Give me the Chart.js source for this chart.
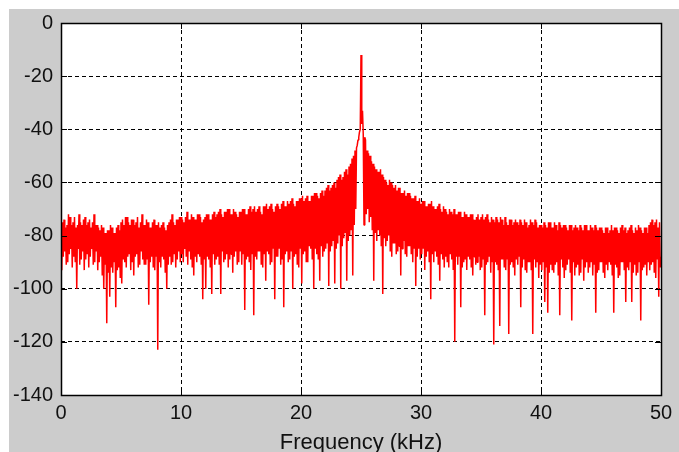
<!DOCTYPE html>
<html>
<head>
<meta charset="utf-8">
<script src="https://cdn.jsdelivr.net/npm/chart.js@4/dist/chart.umd.min.js"></script>
<style>
  html, body { margin: 0; padding: 0; background: #fff; }
</style>
</head>
<body>
<canvas id="spectrum" width="679" height="452"></canvas>
<script>
// FFT bin spacing in kHz
var binWidth = 0.0625;

// magnitude in dB, one row per kHz (16 bins each)
var levels = [
  -79,-93, -75,-88, -74,-86, -77,-91, -76,-90, -72,-87, -73,-85, -76,-92,        // 0
  -75,-88, -73,-90, -77,-100, -76,-85, -72,-91, -75,-89, -76,-86, -74,-93,       // 1
  -73,-89, -76,-87, -75,-92, -74,-88, -77,-85, -75,-91, -72,-90, -76,-86,        // 2
  -76,-93, -77,-90, -78,-88, -76,-95, -77,-100, -79,-91, -79,-113, -78,-94,      // 3
  -78,-103, -76,-92, -77,-94, -79,-90, -79,-107, -77,-93, -76,-92, -78,-96,      // 4
  -75,-98, -74,-89, -76,-90, -73,-92, -73,-88, -75,-87, -76,-93, -74,-90,        // 5
  -74,-95, -76,-88, -75,-87, -73,-92, -77,-91, -75,-86, -72,-89, -76,-91,        // 6
  -76,-91, -74,-89, -75,-106, -77,-90, -77,-88, -75,-92, -74,-93, -76,-88,       // 7
  -76,-123, -75,-90, -77,-92, -76,-88, -75,-89, -77,-94, -78,-100, -76,-91,      // 8
  -75,-88, -74,-91, -72,-90, -75,-87, -76,-92, -74,-89, -74,-86, -73,-90,        // 9
  -73,-87, -74,-90, -75,-85, -73,-88, -71,-91, -74,-86, -74,-89, -72,-92,        // 10
  -73,-95, -74,-88, -74,-90, -72,-87, -72,-88, -73,-91, -75,-104, -74,-89,       // 11
  -73,-100, -72,-88, -72,-89, -74,-92, -74,-102, -72,-87, -71,-91, -73,-89,      // 12
  -72,-88, -71,-91, -70,-102, -72,-86, -73,-90, -71,-89, -71,-87, -70,-92,       // 13
  -70,-89, -72,-87, -72,-94, -70,-88, -71,-86, -72,-91, -73,-90, -71,-86,        // 14
  -71,-91, -70,-87, -70,-108, -72,-89, -72,-88, -70,-90, -69,-93, -71,-87,       // 15
  -70,-110, -69,-88, -71,-89, -70,-86, -69,-86, -71,-91, -72,-92, -69,-87,       // 16
  -69,-97, -68,-86, -70,-87, -69,-91, -68,-90, -70,-85, -71,-104, -69,-88,       // 17
  -68,-88, -69,-85, -70,-91, -68,-89, -67,-107, -69,-87, -69,-86, -67,-90,       // 18
  -68,-89, -67,-86, -66,-100, -68,-88, -69,-87, -67,-91, -67,-92, -66,-85,       // 19
  -66,-98, -65,-87, -67,-86, -66,-90, -65,-90, -67,-84, -67,-85, -65,-89,        // 20
  -65,-100, -64,-85, -64,-87, -65,-89, -66,-97, -64,-84, -63,-88, -65,-86,       // 21
  -63,-85, -62,-83, -61,-99, -63,-86, -62,-84, -61,-82, -60,-98, -62,-85,        // 22
  -59,-83, -58,-80, -57,-100, -59,-84, -58,-81, -56,-79, -55,-97, -57,-82,       // 23
  -54,-80, -53,-78, -51,-95, -50,-76, -48,-70, -47,-46, -44,-43, -41,-40,        // 24
  -12,-38, -33,-42, -76,-43, -44,-72, -48,-70, -49,-75, -50,-73, -52,-78,        // 25 (carrier)
  -53,-97, -54,-79, -55,-82, -56,-78, -56,-80, -55,-84, -57,-102, -58,-81,       // 26
  -59,-84, -60,-82, -61,-80, -59,-86, -60,-88, -61,-83, -62,-83, -61,-87,        // 27
  -63,-86, -62,-84, -62,-95, -64,-85, -64,-82, -63,-87, -65,-88, -64,-84,        // 28
  -64,-84, -65,-87, -66,-90, -66,-85, -65,-99, -67,-88, -67,-85, -66,-89,        // 29
  -68,-87, -67,-85, -67,-93, -69,-88, -69,-86, -68,-90, -68,-104, -67,-87,       // 30
  -69,-90, -70,-86, -70,-88, -69,-91, -68,-97, -70,-87, -71,-89, -69,-92,        // 31
  -70,-88, -71,-90, -72,-92, -70,-87, -71,-89, -72,-93, -70,-120, -72,-88,       // 32
  -72,-91, -71,-88, -71,-107, -73,-92, -73,-90, -71,-89, -72,-93, -73,-88,       // 33
  -73,-89, -72,-92, -72,-95, -74,-88, -74,-91, -73,-90, -72,-88, -74,-93,        // 34
  -73,-92, -72,-89, -74,-110, -73,-91, -72,-90, -74,-88, -75,-94, -73,-90,       // 35
  -74,-121, -75,-90, -73,-91, -74,-93, -75,-114, -73,-89, -74,-89, -76,-92,      // 36
  -73,-93, -75,-89, -76,-117, -74,-91, -74,-90, -76,-92, -75,-95, -74,-89,       // 37
  -75,-91, -76,-88, -74,-107, -75,-92, -76,-89, -74,-93, -75,-94, -77,-90,       // 38
  -76,-90, -74,-93, -75,-117, -76,-89, -74,-92, -75,-90, -77,-96, -76,-91,       // 39
  -76,-93, -77,-90, -75,-105, -76,-92, -77,-109, -75,-94, -75,-91, -77,-93,      // 40
  -77,-94, -75,-91, -76,-90, -78,-95, -75,-110, -76,-89, -77,-92, -76,-96,       // 41
  -76,-93, -77,-91, -78,-89, -76,-94, -76,-112, -78,-90, -77,-95, -76,-92,       // 42
  -77,-91, -78,-95, -76,-94, -77,-89, -78,-97, -76,-92, -76,-90, -78,-94,        // 43
  -78,-92, -76,-90, -77,-95, -78,-91, -76,-109, -77,-94, -78,-93, -77,-90,       // 44
  -77,-90, -78,-94, -79,-96, -77,-91, -77,-93, -79,-90, -78,-91, -76,-95,        // 45
  -78,-109, -77,-91, -77,-92, -78,-96, -79,-95, -77,-90, -76,-90, -78,-93,       // 46
  -77,-105, -79,-92, -78,-93, -77,-90, -76,-105, -78,-94, -79,-91, -77,-95,      // 47
  -78,-94, -76,-90, -77,-112, -78,-93, -79,-92, -77,-91, -77,-95, -79,-90,       // 48
  -76,-93, -75,-91, -74,-90, -76,-94, -75,-96, -74,-89, -77,-103, -75,-92,       // 49
  -88                                                                             // 50
];

var freqRange = [0, 50];
var freqStep = 10;
var dbRange = [-140, 0];
var dbStep = 20;

var points = levels.map(function(v, i) {
  return { x: i * binWidth, y: v };
});

var tickFont = { family: 'Liberation Sans, Arial, sans-serif', size: 20 };

// grey figure background, white axes box, frame and inward ticks
var axesFrame = {
  id: 'axesFrame',
  beforeDraw: function(chart) {
    var ctx = chart.ctx, a = chart.chartArea;
    ctx.save();
    ctx.fillStyle = '#ffffff';
    ctx.fillRect(0, 0, chart.width, chart.height);
    ctx.fillStyle = '#cccccc';
    ctx.fillRect(9, 9, chart.width - 9, chart.height - 9);
    ctx.fillStyle = '#ffffff';
    ctx.fillRect(a.left, a.top, a.right - a.left, a.bottom - a.top);
    ctx.restore();
  },
  afterDraw: function(chart) {
    var ctx = chart.ctx, a = chart.chartArea;
    var xs = chart.scales.x, ys = chart.scales.y;
    var len = 6;
    ctx.save();
    ctx.strokeStyle = '#000';
    ctx.lineWidth = 1;
    ctx.beginPath();
    xs.ticks.forEach(function(t) {
      var px = Math.round(xs.getPixelForValue(t.value)) + 0.5;
      ctx.moveTo(px, a.bottom); ctx.lineTo(px, a.bottom - len);
      ctx.moveTo(px, a.top); ctx.lineTo(px, a.top + len);
    });
    ys.ticks.forEach(function(t) {
      var py = Math.round(ys.getPixelForValue(t.value)) + 0.5;
      ctx.moveTo(a.left, py); ctx.lineTo(a.left + len, py);
      ctx.moveTo(a.right, py); ctx.lineTo(a.right - len, py);
    });
    ctx.stroke();
    ctx.lineWidth = 1.5;
    ctx.strokeRect(a.left + 0.5, a.top + 0.5, a.right - a.left, a.bottom - a.top);
    ctx.restore();
  }
};

var ctx = document.getElementById('spectrum');

var spectrumChart = new Chart(ctx, {
  type: 'line',
  data: {
    datasets: [{
      data: points,
      borderColor: '#ff0000',
      borderWidth: 1.5,
      borderJoinStyle: 'bevel',
      pointRadius: 0,
      tension: 0,
      fill: false
    }]
  },
  options: {
    responsive: false,
    animation: false,
    layout: { padding: { left: 0, top: 23, right: 18, bottom: 0 } },
    plugins: { legend: { display: false }, tooltip: { enabled: false } },
    scales: {
      x: {
        type: 'linear',
        min: freqRange[0],
        max: freqRange[1],
        z: 1,
        afterFit: function(scale) { scale.height = 57; },
        border: { display: false, dash: [4, 3] },
        grid: { color: '#000', drawTicks: false },
        ticks: { stepSize: freqStep, padding: 6, color: '#111', font: tickFont, maxRotation: 0 },
        title: {
          display: true,
          text: 'Frequency (kHz)',
          color: '#111',
          font: { family: 'Liberation Sans, Arial, sans-serif', size: 22 },
          padding: { top: 0, bottom: -4 }
        }
      },
      y: {
        min: dbRange[0],
        max: dbRange[1],
        z: 1,
        afterFit: function(scale) { scale.width = 61; },
        border: { display: false, dash: [4, 3] },
        grid: { color: '#000', drawTicks: false },
        ticks: { stepSize: dbStep, padding: 8, color: '#111', font: tickFont }
      }
    }
  },
  plugins: [axesFrame]
});
</script>
</body>
</html>
